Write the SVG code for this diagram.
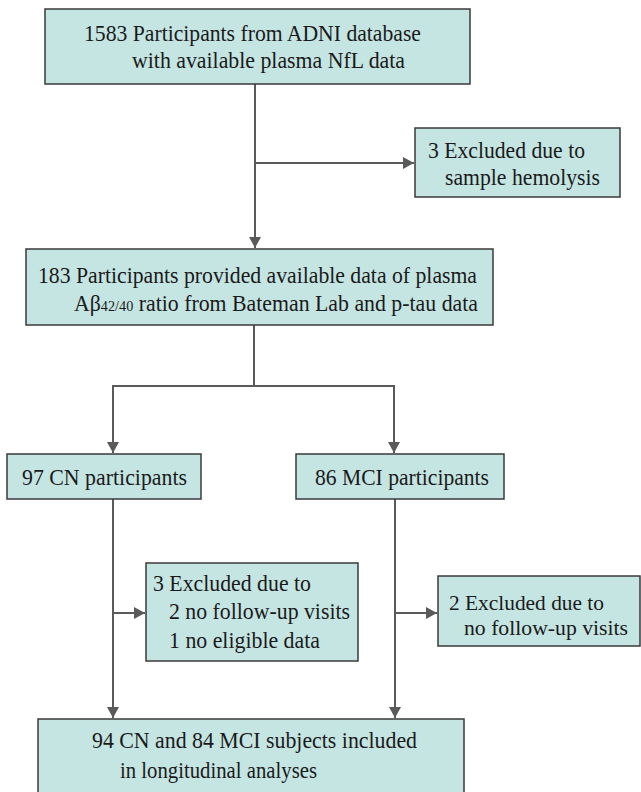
<svg xmlns="http://www.w3.org/2000/svg" width="641" height="792" viewBox="0 0 641 792">
<style>
.box{fill:#c5e5e3;stroke:#3a3a3a;stroke-width:1.5}
.t{font-family:'Liberation Serif','Times New Roman','DejaVu Serif',serif;font-size:23px;fill:#1a1a1a}
.s{font-size:21px}
.c{fill:none;stroke:#5a5a5a;stroke-width:2}
</style>
<defs>
<marker id="ah" markerUnits="userSpaceOnUse" markerWidth="11" markerHeight="12" refX="11" refY="6" orient="auto">
<path d="M0,0 L11,6 L0,12 z" fill="#5a5a5a"/>
</marker>
</defs>
<rect width="641" height="792" fill="#ffffff"/>
<g id="connectors">
<line class="c" x1="255" y1="84" x2="255" y2="248" marker-end="url(#ah)"/>
<line class="c" x1="255" y1="163" x2="414" y2="163" marker-end="url(#ah)"/>
<line class="c" x1="254" y1="325" x2="254" y2="386"/>
<line class="c" x1="112" y1="386" x2="395" y2="386"/>
<line class="c" x1="113" y1="385" x2="113" y2="453" marker-end="url(#ah)"/>
<line class="c" x1="394" y1="385" x2="394" y2="453" marker-end="url(#ah)"/>
<line class="c" x1="113" y1="499" x2="113" y2="718" marker-end="url(#ah)"/>
<line class="c" x1="395" y1="499" x2="395" y2="718" marker-end="url(#ah)"/>
<line class="c" x1="113" y1="613" x2="145" y2="613" marker-end="url(#ah)"/>
<line class="c" x1="395" y1="613" x2="437" y2="613" marker-end="url(#ah)"/>
</g>
<g id="n1">
<rect class="box" x="45" y="9" width="425" height="75"/>
<text class="t" x="84" y="41" textLength="337" lengthAdjust="spacingAndGlyphs">1583 Participants from ADNI database</text>
<text class="t" x="132" y="68" textLength="273" lengthAdjust="spacingAndGlyphs">with available plasma NfL data</text>
</g>
<g id="n2">
<rect class="box" x="415" y="128" width="205" height="69"/>
<text class="t" x="428" y="158" textLength="157" lengthAdjust="spacingAndGlyphs">3 Excluded due to</text>
<text class="t" x="445" y="185" textLength="155" lengthAdjust="spacingAndGlyphs">sample hemolysis</text>
</g>
<g id="n3">
<rect class="box" x="26" y="249" width="467" height="76"/>
<text class="t" x="38" y="283" textLength="439" lengthAdjust="spacingAndGlyphs">183 Participants provided available data of plasma</text>
<text class="t" x="74" y="311" textLength="404" lengthAdjust="spacingAndGlyphs">Aβ<tspan font-size="15">42/40</tspan> ratio from Bateman Lab and p-tau data</text>
</g>
<g id="n4">
<rect class="box" x="7" y="454" width="194" height="45"/>
<text class="t" x="22" y="485" textLength="165" lengthAdjust="spacingAndGlyphs">97 CN participants</text>
</g>
<g id="n5">
<rect class="box" x="296" y="454" width="208" height="45"/>
<text class="t" x="315" y="485" textLength="174" lengthAdjust="spacingAndGlyphs">86 MCI participants</text>
</g>
<g id="n6">
<rect class="box" x="146" y="563" width="212" height="98"/>
<text class="t" x="153" y="591" textLength="158" lengthAdjust="spacingAndGlyphs">3 Excluded due to</text>
<text class="t" x="169" y="619" textLength="181" lengthAdjust="spacingAndGlyphs">2 no follow-up visits</text>
<text class="t" x="169" y="648" textLength="151" lengthAdjust="spacingAndGlyphs">1 no eligible data</text>
</g>
<g id="n7">
<rect class="box" x="438" y="576" width="202" height="70"/>
<text class="t s" x="449" y="610" textLength="155" lengthAdjust="spacingAndGlyphs">2 Excluded due to</text>
<text class="t s" x="464" y="635" textLength="164" lengthAdjust="spacingAndGlyphs">no follow-up visits</text>
</g>
<g id="n8">
<rect class="box" x="38" y="719" width="426" height="90"/>
<text class="t" x="92" y="748" textLength="325" lengthAdjust="spacingAndGlyphs">94 CN and 84 MCI subjects included</text>
<text class="t" x="120" y="778" textLength="197" lengthAdjust="spacingAndGlyphs">in longitudinal analyses</text>
</g>
</svg>
